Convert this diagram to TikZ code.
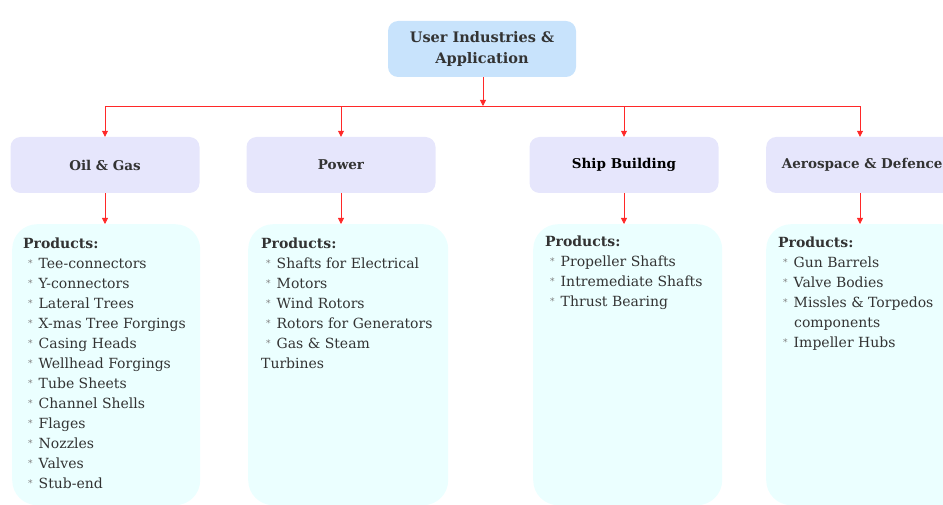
\documentclass[tikz,border=0pt]{standalone}
\usepackage{fontspec}
\setmainfont{DejaVu Serif}
\usetikzlibrary{arrows.meta}
\definecolor{topfill}{RGB}{200,227,252}
\definecolor{catfill}{RGB}{230,230,252}
\definecolor{prodfill}{RGB}{235,255,255}
\definecolor{txt}{RGB}{51,51,51}
\definecolor{arrred}{RGB}{255,40,40}
\newcommand{\itm}{{\color{gray}\fontsize{9}{9}\selectfont\raisebox{2pt}{*}}\hspace{6pt}}
\begin{document}
\begin{tikzpicture}[x=1pt,y=-1pt,
  topbox/.style={fill=topfill, rounded corners=10pt, minimum width=188pt, minimum height=56pt, text=txt, font=\fontsize{14.5}{21}\selectfont\bfseries, align=center, inner sep=0pt},
  catbox/.style={fill=catfill, rounded corners=10pt, minimum width=189pt, minimum height=56pt, text=txt, font=\fontsize{13.5}{16}\selectfont\bfseries, inner sep=0pt},
  prodbox/.style={fill=prodfill, rounded corners=25pt, minimum height=281pt, inner sep=0pt, anchor=north west},
  prodtext/.style={anchor=north west, align=left, text=txt, inner sep=0pt, font=\fontsize{14}{20}\selectfont},
  arr/.style={draw=arrred, line width=0.8pt, -{Triangle[length=6pt,width=6pt]}}
]
\useasboundingbox (0,0) rectangle (943,505);
% top
\node[topbox] (top) at (482,49) {User Industries \&\\Application};
\coordinate (bus) at (483,106);
% categories
\node[catbox] (oil) at (105,165) {Oil \& Gas};
\node[catbox] (pow) at (341,165) {Power};
\node[catbox, text=black] (ship) at (624,165) {Ship Building};
\node[catbox, anchor=west] (aero) at (766,165) {\hspace{3pt}Aerospace \& Defence};
% product boxes
\node[prodbox, minimum width=188pt] (oilp) at (12,224) {};
\node[prodbox, minimum width=200pt] (powp) at (248,224) {};
\node[prodbox, minimum width=189pt] (shipp) at (533,224) {};
\node[prodbox, minimum width=200pt] (aerop) at (766,224) {};
% product texts
\node[prodtext] (oilt) at (23,238) {\textbf{Products:}\\
\hspace{5pt}\itm Tee-connectors\\
\hspace{5pt}\itm Y-connectors\\
\hspace{5pt}\itm Lateral Trees\\
\hspace{5pt}\itm X-mas Tree Forgings\\
\hspace{5pt}\itm Casing Heads\\
\hspace{5pt}\itm Wellhead Forgings\\
\hspace{5pt}\itm Tube Sheets\\
\hspace{5pt}\itm Channel Shells\\
\hspace{5pt}\itm Flages\\
\hspace{5pt}\itm Nozzles\\
\hspace{5pt}\itm Valves\\
\hspace{5pt}\itm Stub-end};
\node[prodtext] (powt) at (261,238) {\textbf{Products:}\\
\hspace{5pt}\itm Shafts for Electrical\\
\hspace{5pt}\itm Motors\\
\hspace{5pt}\itm Wind Rotors\\
\hspace{5pt}\itm Rotors for Generators\\
\hspace{5pt}\itm Gas \& Steam\\
Turbines};
\node[prodtext] (shipt) at (545,236) {\textbf{Products:}\\
\hspace{5pt}\itm Propeller Shafts\\
\hspace{5pt}\itm Intremediate Shafts\\
\hspace{5pt}\itm Thrust Bearing};
\node[prodtext] (aerot) at (778,237) {\textbf{Products:}\\
\hspace{5pt}\itm Gun Barrels\\
\hspace{5pt}\itm Valve Bodies\\
\hspace{5pt}\itm Missles \& Torpedos\\
\hspace{16pt}components\\
\hspace{5pt}\itm Impeller Hubs};
% connectors
\draw[arr] (top.south -| bus) -- (bus);
\draw[arr] (bus) -| (oil.north);
\draw[arr] (bus) -| (pow.north);
\draw[arr] (bus) -| (ship.north);
\draw[arr] (bus) -| ([xshift=94pt]aero.north west);
\draw[arr] (oil.south) -- (oil.south |- oilp.north);
\draw[arr] (pow.south) -- (pow.south |- powp.north);
\draw[arr] (ship.south) -- (ship.south |- shipp.north);
\draw[arr] ([xshift=94pt]aero.south west) -- ([xshift=94pt]aero.south west |- aerop.north);
\end{tikzpicture}
\end{document}
